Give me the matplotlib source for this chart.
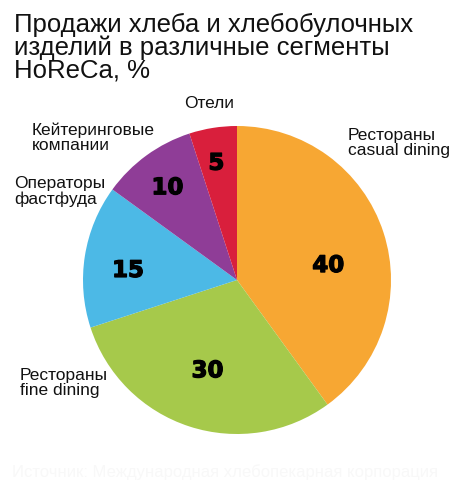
import matplotlib
matplotlib.use("Agg")
import numpy as np
from matplotlib import pyplot as plt
from matplotlib import patheffects as pe

# data
segments = [
    "Рестораны\ncasual dining",
    "Рестораны\nfine dining",
    "Операторы\nфастфуда",
    "Кейтеринговые\nкомпании",
    "Отели",
]
shares = [40, 30, 15, 10, 5]
colors = ["#f7a733", "#a6c94b", "#4cb9e6", "#8f3d97", "#d91f3c"]
title_lines = [
    "Продажи хлеба и хлебобулочных",
    "изделий в различные сегменты",
    "HoReCa, %",
]
source = "Источник: Международная хлебопекарная корпорация"

W, H = 463, 499
fig = plt.figure(figsize=(W / 100, H / 100), dpi=100)
ax = fig.add_axes([0, 0, 1, 1])

cx, cy, R = 237, H - 280, 154
wedges, _ = ax.pie(
    shares,
    colors=colors,
    startangle=90,
    counterclock=False,
    center=(cx, cy),
    radius=R,
    wedgeprops=dict(linewidth=0),
)
ax.set_xlim(0, W)
ax.set_ylim(0, H)
ax.set_aspect("equal")
ax.axis("off")

# numbers inside the slices (radius fraction, angle shift in degrees)
num_r = [0.60, 0.62, 0.71, 0.75, 0.77]
num_shift = [-9, 0, 4, 1, 1]
for w, val, rr, sh in zip(wedges, shares, num_r, num_shift):
    ang = np.deg2rad((w.theta1 + w.theta2) / 2 + sh)
    ax.text(cx + rr * R * np.cos(ang), cy + rr * R * np.sin(ang), str(val),
            ha="center", va="center", fontsize=16.5, fontweight="bold",
            family="DejaVu Sans", color="black",
            path_effects=[pe.withStroke(linewidth=0.9, foreground="black")])

# outer labels (left x, top y in pixels)
label_pos = [(348, 128), (20, 368), (14, 176), (32, 122), (184, 96)]
for txt, (lx, ly) in zip(segments, label_pos):
    ax.text(lx, H - ly, txt, ha="left", va="top", fontsize=12.5,
            family="Liberation Sans", color="#111111", linespacing=1.0)

# title
for i, line in enumerate(title_lines):
    ax.text(14, H - 32 - i * 22.5, line, ha="left", va="baseline",
            fontsize=18.5, family="Liberation Sans", color="#111111")

ax.text(12, H - 477, source, ha="left", va="baseline", fontsize=12,
        family="Liberation Sans", color="#f8f8f8")

fig.savefig("out.png", dpi=100)
